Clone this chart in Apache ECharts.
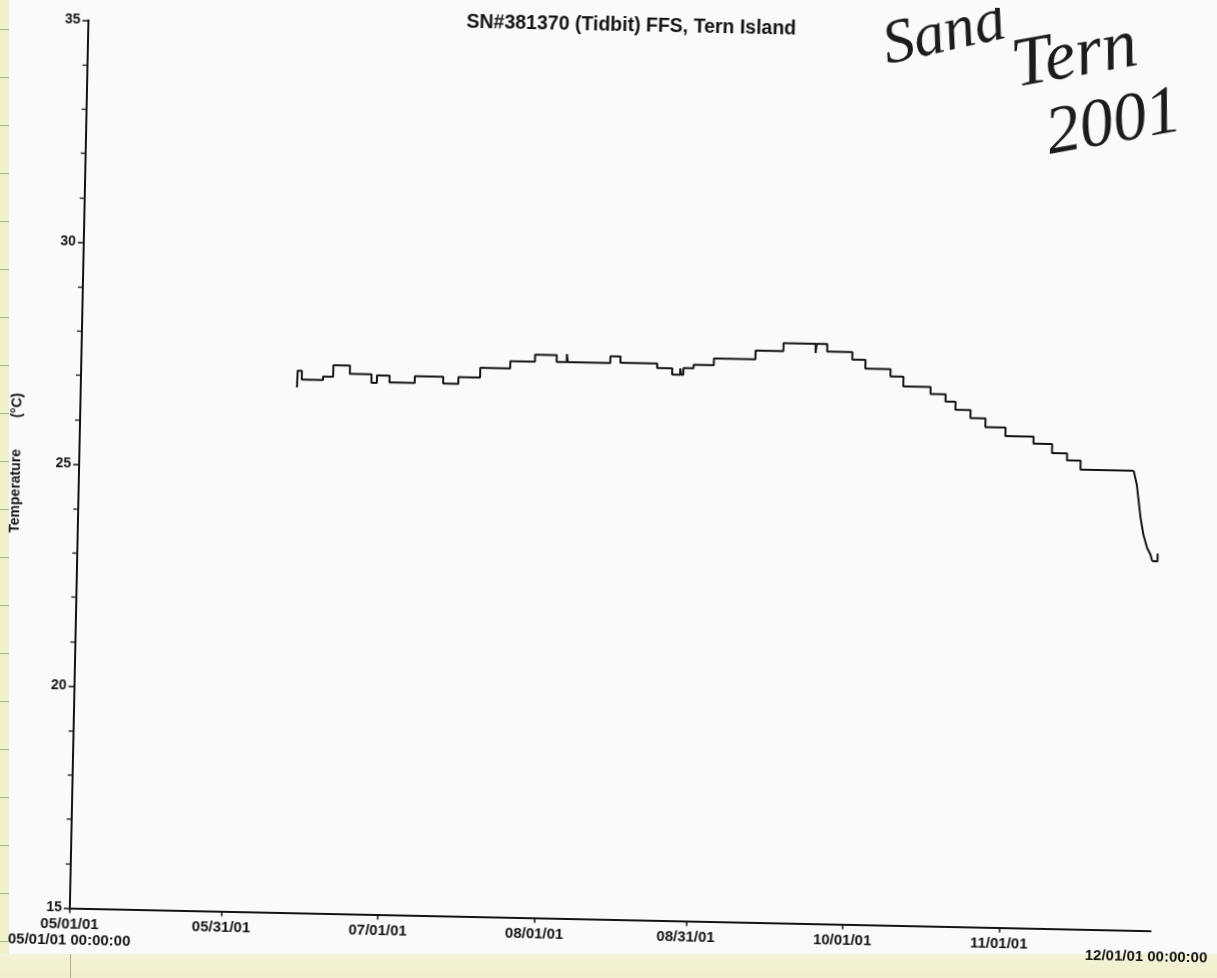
<!DOCTYPE html>
<html>
<head>
<meta charset="utf-8">
<title>SN#381370 (Tidbit) FFS, Tern Island</title>
<script src="https://cdn.jsdelivr.net/npm/echarts@6/dist/echarts.min.js"></script>
<style>
  html, body { margin: 0; padding: 0; width: 1217px; height: 978px; overflow: hidden; background: #fafaf8; }
  #margin-strip {
    position: absolute; left: 0; top: 0; width: 9px; height: 955px;
    background-color: #eef0c8;
    background-image: repeating-linear-gradient(to bottom, transparent 0px, transparent 29px, #9fb58a 29px, #9fb58a 30px, transparent 30px, transparent 48px);
  }
  #pad-strip {
    position: absolute; left: 0; top: 954px; width: 1217px; height: 24px;
    background: linear-gradient(to bottom, #f4f2d8, #f1eecb);
  }
  #pad-rule { position: absolute; left: 70px; top: 954px; width: 1px; height: 24px; background: #b9a98a; }
  #chart {
    position: absolute; left: 0; top: 0; width: 1250px; height: 1000px;
    transform-origin: 619.5px 476.5px; transform: rotate(1.2deg);
  }
</style>
</head>
<body>
<div id="margin-strip"></div>
<div id="pad-strip"></div>
<div id="pad-rule"></div>
<div id="chart"></div>
<script>
// Tidbit logger record: each time below starts a new constant reading (°C)
const stepTimes = [
  '2001-06-12 19:00', '2001-06-12 21:00', '2001-06-13 17:00', '2001-06-17 22:00',
  '2001-06-19 22:00', '2001-06-23 05:00', '2001-06-27 12:00', '2001-06-28 14:00',
  '2001-07-01 02:00', '2001-07-06 02:00', '2001-07-11 17:00', '2001-07-14 17:00',
  '2001-07-19 00:00', '2001-07-24 22:00', '2001-07-29 19:00', '2001-08-03 02:00',
  '2001-08-05 02:00', '2001-08-05 07:00', '2001-08-13 17:00', '2001-08-15 17:00',
  '2001-08-23 00:00', '2001-08-26 00:00', '2001-08-27 14:00', '2001-08-27 19:00',
  '2001-08-28 05:00', '2001-08-30 05:00', '2001-09-03 05:00', '2001-09-11 10:00',
  '2001-09-16 22:00', '2001-09-23 07:00', '2001-09-23 12:00', '2001-09-25 14:00',
  '2001-09-30 14:00', '2001-10-03 05:00', '2001-10-08 05:00', '2001-10-10 19:00',
  '2001-10-16 05:00', '2001-10-19 05:00', '2001-10-21 05:00', '2001-10-24 05:00',
  '2001-10-27 05:00', '2001-10-31 05:00', '2001-11-05 19:00', '2001-11-09 12:00',
  '2001-11-12 12:00', '2001-11-15 05:00', '2001-11-25 18:00'
];
const stepTemps = [
  26.83, 27.21, 27.01, 27.09,
  27.35, 27.16, 26.97, 27.14,
  26.99, 27.14, 26.99, 27.14,
  27.36, 27.52, 27.68, 27.53,
  27.71, 27.53, 27.68, 27.54,
  27.44, 27.30, 27.44, 27.30,
  27.45, 27.53, 27.68, 27.88,
  28.06, 27.85, 28.06, 27.89,
  27.72, 27.52, 27.36, 27.14,
  26.98, 26.82, 26.64, 26.46,
  26.26, 26.07, 25.91, 25.71,
  25.55, 25.35, 25.35
];
// Logger pulled from the sand: rapid cooling
const dropTimes = [
  '2001-11-25 18:00', '2001-11-26 10:00', '2001-11-27 07:00', '2001-11-27 22:00',
  '2001-11-28 17:00', '2001-11-29 10:00', '2001-11-29 19:00'
];
const dropTemps = [25.35, 25.04, 24.30, 23.92, 23.62, 23.47, 23.32];
// Final readings
const tailTimes = ['2001-11-29 19:00', '2001-11-30 20:00', '2001-12-01 00:00'];
const tailTemps = [23.32, 23.48, 23.48];

// Date axis ticks and their labels
const tickDates = ['2001-05-01', '2001-05-31', '2001-07-01', '2001-08-01', '2001-08-31', '2001-10-01', '2001-11-01'];
const tickLabels = ['05/01/01', '05/31/01', '07/01/01', '08/01/01', '08/31/01', '10/01/01', '11/01/01'];
const rangeStart = '2001-05-01 00:00';
const rangeEnd = '2001-12-01 00:00';
const rangeStartLabel = '05/01/01 00:00:00';
const rangeEndLabel = '12/01/01 00:00:00';

// Temperature axis
const tempMin = 15, tempMax = 35, tempStep = 5;

const titleText = 'SN#381370 (Tidbit) FFS, Tern Island';
const yName = 'Temperature        (°C)';
const noteLines = ['Sand', 'Tern', '2001'];

function toMs(s) {
  const parts = s.split(' ');
  const d = parts[0].split('-').map(Number);
  const t = (parts[1] || '00:00').split(':').map(Number);
  return Date.UTC(d[0], d[1] - 1, d[2], t[0], t[1]);
}
function pairs(times, temps) {
  return times.map((t, i) => [toMs(t), temps[i]]);
}

const tickMs = tickDates.map(toMs);
const startMs = toMs(rangeStart);
const endMs = toMs(rangeEnd);
const INK = '#141414';
const FONT = '"Liberation Sans", Arial, sans-serif';
const HAND = '"Liberation Serif", serif';

const chart = echarts.init(document.getElementById('chart'), null, { renderer: 'canvas' });

const lineStyle = { color: INK, width: 2 };

chart.setOption({
  backgroundColor: 'transparent',
  animation: false,
  title: {
    text: titleText,
    left: 452, top: 11,
    textStyle: { fontFamily: FONT, fontSize: 19.5, fontWeight: 'bold', color: INK }
  },
  grid: { left: 79, right: 90, top: 31.5, bottom: 80.5, containLabel: false, outerBoundsMode: 'none' },
  xAxis: {
    type: 'value',
    min: startMs, max: endMs,
    splitLine: { show: false },
    axisLine: { lineStyle: { color: INK, width: 2 } },
    axisTick: { customValues: tickMs, length: 5, lineStyle: { color: INK, width: 1.5 } },
    axisLabel: {
      customValues: tickMs.concat([endMs]),
      margin: 8,
      color: INK,
      fontFamily: FONT,
      fontSize: 15,
      fontWeight: 'bold',
      formatter: function (v) {
        if (v === endMs) return '{e|' + rangeEndLabel + '}';
        const i = tickMs.indexOf(v);
        if (i === 0) return '{d|' + tickLabels[0] + '}\n{d|' + rangeStartLabel + '}';
        return '{d|' + tickLabels[i] + '}';
      },
      rich: {
        d: { fontFamily: FONT, fontSize: 15, fontWeight: 'bold', color: INK, lineHeight: 16 },
        e: { fontFamily: FONT, fontSize: 15, fontWeight: 'bold', color: INK, lineHeight: 16, padding: [20, 8, 0, 0] }
      }
    }
  },
  yAxis: {
    type: 'value',
    min: tempMin, max: tempMax, interval: tempStep,
    name: yName,
    nameLocation: 'middle',
    nameRotate: 90,
    nameGap: 56,
    nameTextStyle: { fontFamily: FONT, fontSize: 14, fontWeight: 'bold', color: INK },
    splitLine: { show: false },
    axisLine: { show: true, lineStyle: { color: INK, width: 2 } },
    axisTick: { show: true, length: 6, lineStyle: { color: INK, width: 1.5 } },
    minorTick: { show: true, splitNumber: 5, length: 5, lineStyle: { color: INK, width: 1.3 } },
    axisLabel: { margin: 8, color: INK, fontFamily: FONT, fontSize: 14, fontWeight: 'bold' }
  },
  graphic: [
    { type: 'text', x: 935, y: 28, rotation: 0.24, style: { text: noteLines[0], fontFamily: HAND, fontStyle: 'italic', fontSize: 62, fill: '#1c1c1c', textAlign: 'center', textVerticalAlign: 'middle' } },
    { type: 'text', x: 1066, y: 48, rotation: 0.2, style: { text: noteLines[1], fontFamily: HAND, fontStyle: 'italic', fontSize: 70, fill: '#1c1c1c', textAlign: 'center', textVerticalAlign: 'middle' } },
    { type: 'text', x: 1106, y: 114, rotation: 0.2, style: { text: noteLines[2], fontFamily: HAND, fontStyle: 'italic', fontSize: 68, fill: '#1c1c1c', textAlign: 'center', textVerticalAlign: 'middle' } }
  ],
  series: [
    { type: 'line', step: 'end', showSymbol: false, data: pairs(stepTimes, stepTemps), lineStyle: lineStyle, silent: true },
    { type: 'line', showSymbol: false, data: pairs(dropTimes, dropTemps), lineStyle: lineStyle, silent: true },
    { type: 'line', step: 'end', showSymbol: false, data: pairs(tailTimes, tailTemps), lineStyle: lineStyle, silent: true }
  ]
});
</script>
</body>
</html>
